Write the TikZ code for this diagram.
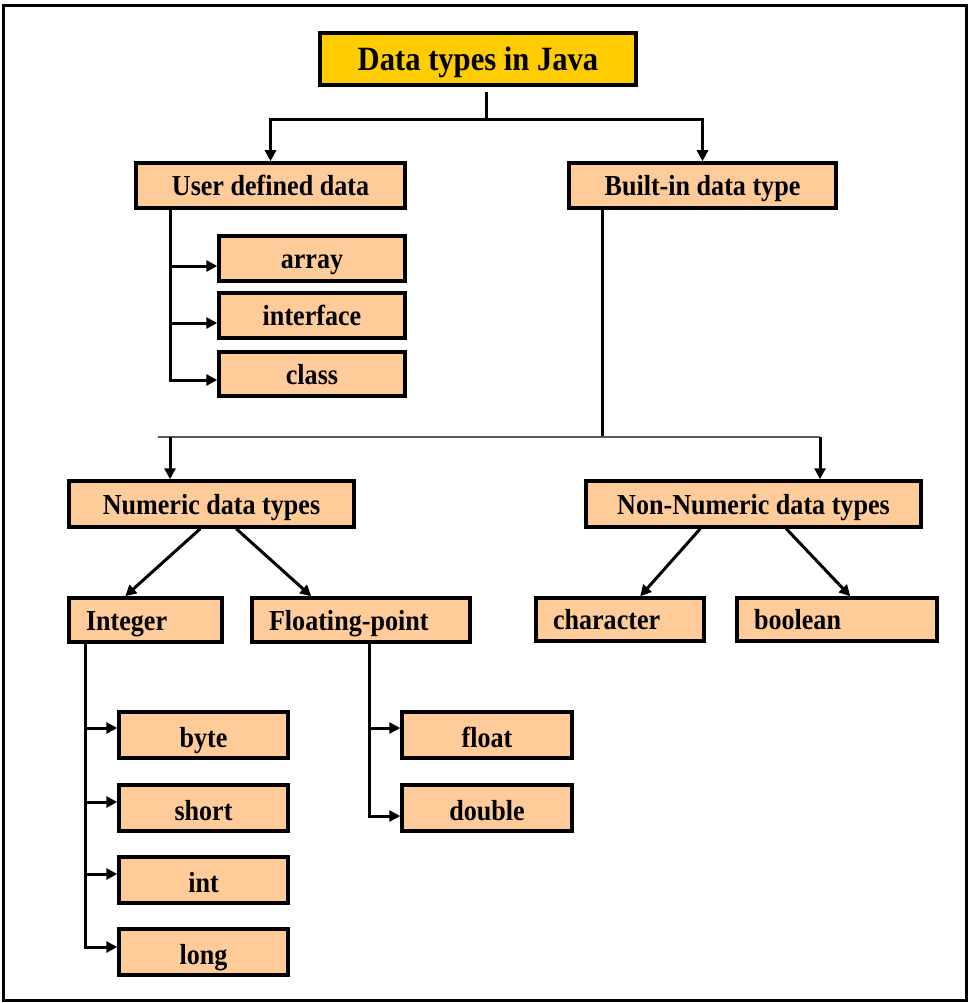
\documentclass[tikz,border=0pt]{standalone}
\usepackage{fontspec}
\newfontfamily\dfont{Liberation Serif}[FakeStretch=0.9]
\usetikzlibrary{arrows.meta}
\definecolor{peach}{HTML}{FFCC99}
\definecolor{gold}{HTML}{FFCC00}
\begin{document}
\begin{tikzpicture}[x=1pt,y=-1pt,
  box/.style={draw=black, line width=3.5pt, fill=peach, inner sep=0pt,
    font=\dfont\bfseries\fontsize{29}{32}\selectfont,
    text height=20pt, text depth=0pt, align=center},
  lowbox/.style={box, text height=24pt},
  lbox/.style={box, align=left, inner xsep=17pt, inner ysep=0pt, text width=#1},
  titlebox/.style={box, fill=gold, font=\dfont\bfseries\fontsize{34}{38}\selectfont, text height=24pt},
  conn/.style={draw=black, line width=3pt},
  arr/.style={conn, -{Triangle[length=11pt,width=11pt]}},
  thinconn/.style={draw=black!65, line width=1.8pt}]
\useasboundingbox (0,0) rectangle (970,1003);
\fill[white] (0,0) rectangle (970,1003);
\draw[line width=3pt] (3,6) rectangle (966,1000);

% nodes
\node[titlebox, minimum width=316pt, minimum height=52pt] (title) at (478,59) {Data types in Java};
\node[box, minimum width=269pt, minimum height=45pt] (user) at (270.5,185.5) {User defined data};
\node[box, minimum width=267pt, minimum height=45pt] (built) at (702.5,185.5) {Built-in data type};
\node[box, minimum width=186pt, minimum height=45pt] (array) at (312,258.5) {array};
\node[box, minimum width=186pt, minimum height=45pt] (iface) at (312,315.5) {interface};
\node[box, minimum width=186pt, minimum height=44pt] (class) at (312,374) {class};
\node[box, minimum width=285pt, minimum height=46pt] (numeric) at (211.5,504) {Numeric data types};
\node[box, minimum width=335pt, minimum height=46pt] (nonnum) at (753.5,504) {Non-Numeric data types};
\node[lbox=119pt, minimum height=44pt] (integer) at (145.5,620) {Integer};
\node[lbox=184pt, minimum height=44pt] (floating) at (361,620) {Floating-point};
\node[lbox=134pt, minimum height=43pt] (character) at (620,619.5) {character};
\node[lbox=166pt, minimum height=43pt] (boolean) at (837,619.5) {boolean};
\node[lowbox, minimum width=169pt, minimum height=46pt] (byte) at (203.5,735) {byte};
\node[lowbox, minimum width=169pt, minimum height=46pt] (short) at (203.5,808) {short};
\node[lowbox, minimum width=169pt, minimum height=46pt] (int) at (203.5,880) {int};
\node[lowbox, minimum width=169pt, minimum height=46pt] (long) at (203.5,952) {long};
\node[lowbox, minimum width=170pt, minimum height=46pt] (float) at (487,735) {float};
\node[lowbox, minimum width=170pt, minimum height=46pt] (double) at (487,808) {double};

% title branches
\coordinate (tt) at (486,92);
\coordinate (tj) at (486,120);
\draw[conn] (tt) -- (tj);
\draw[arr] (tj) -| (user.north);
\draw[arr] (tj) -| (built.north);

% user defined
\coordinate (uv) at (170,0);
\draw[arr] (user.south -| uv) |- ([yshift=-7.5pt]array.west);
\draw[arr] (user.south -| uv) |- ([yshift=-7.5pt]iface.west);
\draw[arr] (user.south -| uv) |- ([yshift=-6pt]class.west);

% built-in
\coordinate (bj) at (602,437);
\coordinate (hl) at (158,437);
\coordinate (nv) at (170,437);
\coordinate (hr) at (820,437);
\draw[conn] (built.south -| bj) -- (bj);
\draw[thinconn] (hl) -- (hr);
\draw[arr] (nv) -- (numeric.north -| nv);
\draw[arr] (hr) -- (nonnum.north -| hr);

% numeric / non-numeric
\draw[arr] ([xshift=133pt]numeric.south west) -- ([xshift=58pt]integer.north west);
\draw[arr] ([xshift=169pt]numeric.south west) -- ([xshift=61pt]floating.north west);
\draw[arr] ([xshift=116pt]nonnum.south west) -- ([xshift=106pt]character.north west);
\draw[arr] ([xshift=202pt]nonnum.south west) -- ([xshift=115pt]boolean.north west);

% integer
\coordinate (iv) at (85,0);
\draw[arr] (integer.south -| iv) |- ([yshift=7pt]byte.west);
\draw[arr] (integer.south -| iv) |- ([yshift=6pt]short.west);
\draw[arr] (integer.south -| iv) |- ([yshift=6pt]int.west);
\draw[arr] (integer.south -| iv) |- ([yshift=5pt]long.west);

% floating
\coordinate (fv) at (369,0);
\draw[arr] (floating.south -| fv) |- ([yshift=7pt]float.west);
\draw[arr] (floating.south -| fv) |- ([yshift=-8pt]double.west);
\end{tikzpicture}
\end{document}
